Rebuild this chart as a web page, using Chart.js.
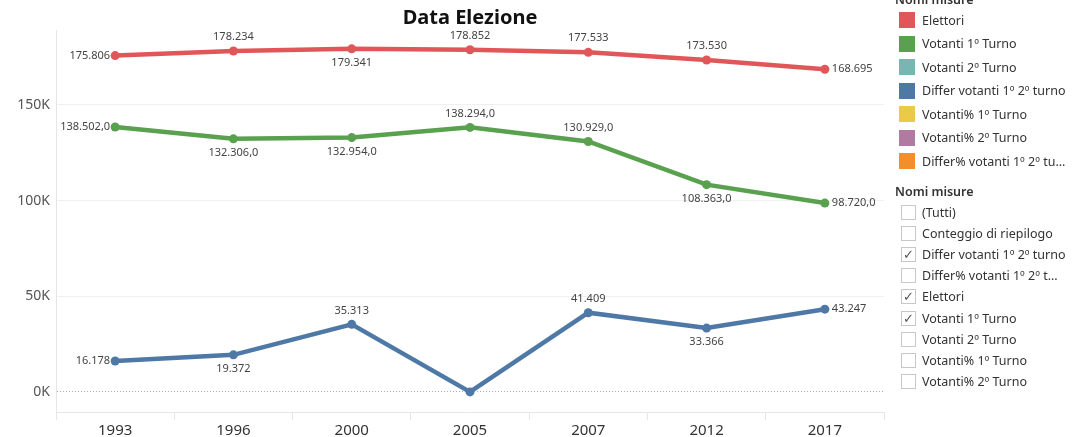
<!DOCTYPE html>
<html lang="it">
<head>
<meta charset="UTF-8">
<script src="https://cdn.jsdelivr.net/npm/chart.js@4"></script>
<title>Data Elezione</title>
<style>
  body { margin: 0; background: #fff; font-family: "Noto Sans", sans-serif; }
  #wrap { position: relative; width: 1074px; height: 437px; overflow: hidden; }
  #grafico { position: absolute; left: 0; top: 0; }
  .head { position: absolute; left: 895px; font-size: 12.5px; font-weight: 600; color: #333; }
  .row { position: absolute; left: 899px; height: 20px; display: flex; align-items: center; font-size: 12.5px; color: #333; white-space: nowrap; }
  .sw { width: 16px; height: 16px; margin-right: 7px; }
  .cb { width: 15px; height: 15px; border: 1px solid #c8c8c8; box-sizing: border-box; margin: 0 6px 0 2px;
        font-size: 13px; line-height: 13px; text-align: center; color: #555; }
</style>
</head>
<body>
<div id="wrap">
  <canvas id="grafico" width="1074" height="437"></canvas>
  <div id="legenda"></div>
</div>
<script>
// dati
const anni = ['1993', '1996', '2000', '2005', '2007', '2012', '2017'];
const elettori = [175806, 178234, 179341, 178852, 177533, 173530, 168695];
const votanti1Turno = [138502, 132306, 132954, 138294, 130929, 108363, 98720];
const differVotanti = [16178, 19372, 35313, 0, 41409, 33366, 43247];
const tickY = [0, 50000, 100000, 150000];

const voci = ['Elettori', 'Votanti 1º Turno', 'Votanti 2º Turno', 'Differ votanti 1º 2º turno',
  'Votanti% 1º Turno', 'Votanti% 2º Turno', 'Differ% votanti 1º 2º tu...'];
const coloriVoci = ['#e15759', '#59a14f', '#76b7b2', '#4e79a7', '#edc948', '#b07aa1', '#f28e2b'];
const filtri = ['(Tutti)', 'Conteggio di riepilogo', 'Differ votanti 1º 2º turno', 'Differ% votanti 1º 2º t...',
  'Elettori', 'Votanti 1º Turno', 'Votanti 2º Turno', 'Votanti% 1º Turno', 'Votanti% 2º Turno'];
const filtriSelezionati = [false, false, true, false, true, true, false, false, false];

// dove scrivere le etichette dei punti
const posEtichette = [
  ['left', 'above', 'below', 'above', 'above', 'above', 'right'],
  ['left', 'below', 'below', 'above', 'above', 'below', 'right'],
  ['left', 'below', 'above', 'none', 'above', 'below', 'right']
];
const decimali = [false, true, false];

function formatta(v, dec) {
  var s = String(Math.round(v)).replace(/\B(?=(\d{3})+(?!\d))/g, '.');
  return dec ? s + ',0' : s;
}

// legenda a destra
var leg = document.getElementById('legenda');
var html = '<div class="head" style="top:-9px">Nomi misure</div>';
voci.forEach(function(v, i) {
  html += '<div class="row" style="top:' + (10 + i * 23.5) + 'px"><div class="sw" style="background:' +
    coloriVoci[i] + '"></div>' + v + '</div>';
});
html += '<div class="head" style="top:183px">Nomi misure</div>';
filtri.forEach(function(f, i) {
  html += '<div class="row" style="top:' + (202 + i * 21.2) + 'px"><div class="cb">' +
    (filtriSelezionati[i] ? '✓' : '') + '</div>' + f + '</div>';
});
leg.innerHTML = html;

var etichette = {
  id: 'etichette',
  afterDatasetsDraw: function(chart) {
    var ctx = chart.ctx;
    ctx.save();
    ctx.font = '11px "Noto Sans", sans-serif';
    ctx.fillStyle = '#444';
    chart.data.datasets.forEach(function(ds, di) {
      chart.getDatasetMeta(di).data.forEach(function(pt, i) {
        var pos = posEtichette[di][i];
        if (pos === 'none') return;
        var t = formatta(ds.data[i], decimali[di]);
        ctx.textBaseline = 'middle';
        if (pos === 'left') { ctx.textAlign = 'right'; ctx.fillText(t, pt.x - 5, pt.y); }
        else if (pos === 'right') { ctx.textAlign = 'left'; ctx.fillText(t, pt.x + 7, pt.y); }
        else if (pos === 'above') { ctx.textAlign = 'center'; ctx.fillText(t, pt.x, pt.y - 14); }
        else { ctx.textAlign = 'center'; ctx.fillText(t, pt.x, pt.y + 14); }
      });
    });
    ctx.restore();
  }
};

function serie(label, dati, colore) {
  return {
    label: label, data: dati, borderColor: colore, backgroundColor: colore,
    borderWidth: 4.5, pointRadius: 4.5, pointBorderWidth: 0, pointHoverRadius: 4.5, tension: 0
  };
}

new Chart('grafico', {
  type: 'line',
  data: {
    labels: anni,
    datasets: [
      serie('Elettori', elettori, coloriVoci[0]),
      serie('Votanti 1º Turno', votanti1Turno, coloriVoci[1]),
      serie('Differ votanti 1º 2º turno', differVotanti, coloriVoci[3])
    ]
  },
  options: {
    responsive: false,
    animation: false,
    layout: { padding: { right: 190, top: 0, bottom: 0, left: 0 } },
    plugins: {
      legend: { display: false },
      tooltip: { enabled: false },
      title: {
        display: true, text: 'Data Elezione', fullSize: false, color: '#111',
        font: { family: '"Noto Sans", sans-serif', size: 20, weight: 'bold' },
        padding: { top: 6, bottom: 0 }
      }
    },
    scales: {
      x: {
        offset: true,
        grid: { offset: true, drawOnChartArea: false, drawTicks: true, tickLength: 8, color: '#e6e6e6' },
        border: { display: true, color: '#e6e6e6' },
        ticks: { color: '#333', padding: 2, font: { family: '"Noto Sans", sans-serif', size: 15 } },
        afterFit: function(s) { s.height = 25; }
      },
      y: {
        min: -10500, max: 189200,
        afterBuildTicks: function(s) { s.ticks = tickY.map(function(v) { return { value: v }; }); },
        grid: {
          drawTicks: false,
          color: function(c) { return c.tick && c.tick.value === 0 ? '#aaa' : '#efefef'; }
        },
        border: { display: true, color: '#e6e6e6',
          dash: function(c) { return c.tick && c.tick.value === 0 ? [1, 2] : []; } },
        ticks: {
          color: '#555', padding: 6,
          font: { family: '"Noto Sans", sans-serif', size: 14 },
          callback: function(v) { return (v / 1000) + 'K'; }
        },
        afterFit: function(s) { s.width = 56; }
      }
    }
  },
  plugins: [etichette]
});
</script>
</body>
</html>
